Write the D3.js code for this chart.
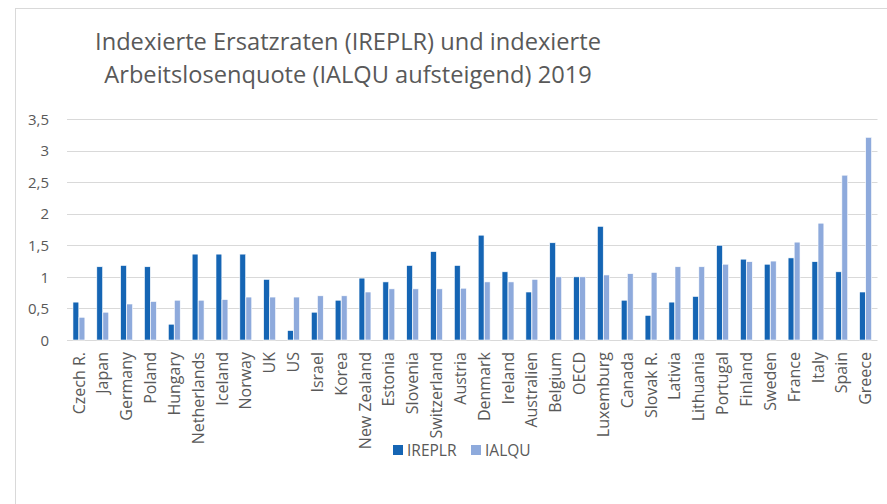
<!DOCTYPE html>
<html><head><meta charset="utf-8">
<script src="https://cdn.jsdelivr.net/npm/d3@7"></script>
<style>body{margin:0;background:#fff}svg{display:block}text{font-family:"Open Sans",sans-serif;fill:#595959}</style>
</head><body>
<svg id="c" width="887" height="504"></svg>
<script>
const categories=["Czech R.","Japan","Germany","Poland","Hungary","Netherlands","Iceland","Norway","UK","US","Israel","Korea","New Zealand","Estonia","Slovenia","Switzerland","Austria","Denmark","Ireland","Australien","Belgium","OECD","Luxemburg","Canada","Slovak R.","Lativia","Lithuania","Portugal","Finland","Sweden","France","Italy","Spain","Greece"];
const ireplr=[0.60,1.16,1.18,1.16,0.25,1.36,1.36,1.36,0.96,0.15,0.44,0.63,0.98,0.92,1.18,1.40,1.18,1.66,1.08,0.76,1.54,1.00,1.80,0.63,0.39,0.60,0.69,1.50,1.28,1.20,1.30,1.24,1.08,0.76];
const ialqu=[0.36,0.44,0.57,0.61,0.63,0.63,0.64,0.68,0.68,0.68,0.70,0.70,0.76,0.81,0.81,0.81,0.82,0.92,0.92,0.96,1.00,1.00,1.03,1.05,1.07,1.16,1.16,1.20,1.24,1.25,1.55,1.85,2.61,3.21];
const seriesNames=["IREPLR","IALQU"];
const colors=["#1565b4","#8eaadc"];
const yTicks=[0,0.5,1,1.5,2,2.5,3,3.5];
const titleLines=["Indexierte Ersatzraten (IREPLR) und indexierte","Arbeitslosenquote (IALQU aufsteigend) 2019"];

const svg=d3.select("#c");
svg.append("rect").attr("x",15.5).attr("y",8.5).attr("width",880).attr("height",510).attr("fill","none").attr("stroke","#d9d9d9").attr("stroke-width",1);

const L=67,R=877.5,T=119,B=340;
const x=d3.scaleBand().domain(categories).range([L,R]).paddingInner(0.48).paddingOuter(0.24);
const xs=d3.scaleBand().domain(seriesNames).range([0,x.bandwidth()]).padding(0.04);
const y=d3.scaleLinear().domain([0,3.5]).range([B,T]);
const fmt=v=>String(v).replace(".",",");

svg.append("g").selectAll("line").data(yTicks).join("line")
 .attr("x1",L).attr("x2",R).attr("y1",d=>Math.round(y(d))+0.5).attr("y2",d=>Math.round(y(d))+0.5)
 .attr("stroke","#d9d9d9").attr("stroke-width",1);

const yAxis=svg.append("g").attr("transform",`translate(${L-18},0)`)
 .call(d3.axisLeft(y).tickValues(yTicks).tickFormat(fmt).tickSize(0).tickPadding(0));
yAxis.select(".domain").remove();
yAxis.selectAll("text").style("font-size","15px").attr("fill","#595959").attr("dy","0.35em");

const data=categories.map((c,i)=>({c,vals:[ireplr[i],ialqu[i]]}));
const g=svg.append("g").selectAll("g").data(data).join("g").attr("transform",d=>`translate(${x(d.c)},0)`);
g.selectAll("rect").data(d=>d.vals.map((v,j)=>({k:seriesNames[j],v,j}))).join("rect")
 .attr("x",d=>xs(d.k)).attr("width",xs.bandwidth())
 .attr("y",d=>y(d.v)).attr("height",d=>y(0)-y(d.v))
 .attr("fill",d=>colors[d.j]).attr("stroke","#fff").attr("stroke-width",0.6);

const xAxis=svg.append("g").attr("transform",`translate(0,${B})`)
 .call(d3.axisBottom(x).tickSize(0).tickPadding(0));
xAxis.select(".domain").remove();
xAxis.selectAll("text").style("font-size","16px").attr("fill","#595959")
 .attr("transform","rotate(-90)").attr("text-anchor","end")
 .attr("x",-12).attr("y",0).attr("dy","0.35em");

const title=svg.append("g");
titleLines.forEach((t,i)=>{
 title.append("text").attr("x",348).attr("y",i===0?50:83).attr("text-anchor","middle")
  .style("font-size","22px").text(t);
});
const t0=title.select("text").node();
const w0=t0.getComputedTextLength();
const fs=22*506/w0;
title.selectAll("text").style("font-size",fs+"px");

const leg=svg.append("g");
const lx=[393,471];
seriesNames.forEach((s,i)=>{
 leg.append("rect").attr("x",lx[i]).attr("y",445).attr("width",10).attr("height",10).attr("fill",colors[i]);
 leg.append("text").attr("x",lx[i]+14).attr("y",456).style("font-size","15.5px").text(s);
});
</script>
</body></html>
